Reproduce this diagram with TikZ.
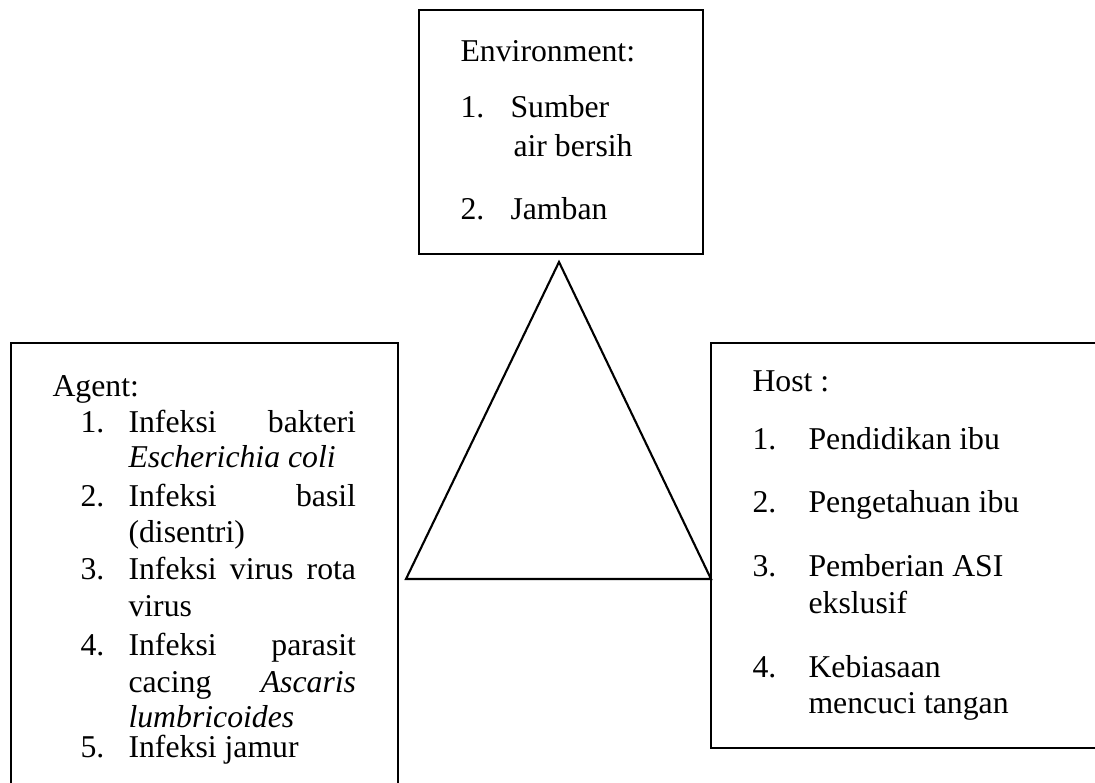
\documentclass[tikz,border=0pt]{standalone}
\usepackage{fontspec}
\setmainfont{Liberation Serif}
\newcommand{\jline}[1]{\hbox to 86pt{#1}}
\tikzset{
  box/.style={draw=black, line width=0.8pt},
  txt/.style={anchor=base west, inner sep=0pt, font=\fontsize{12}{13.8}\selectfont},
}

\begin{document}
\begin{tikzpicture}[x=0.378pt, y=-0.378pt]
  \clip (0,0) rectangle (1095,783);
  % boxes
  \draw[box] (419,10) rectangle (703,254);
  \draw[box] (11,343) rectangle (398,810);
  \draw[box] (711,343) rectangle (1110,748);

  % triangle
  \coordinate (top) at (559,262);
  \coordinate (bl) at (406,579);
  \coordinate (br) at (711,579);
  \draw[box, line join=miter] (top) -- (bl) -- (br) -- cycle;

  % environment
  \begin{scope}
    \node[txt] (env) at (460,62) {Environment:};
    \node[txt] (e1) at (460,118) {1.};
    \node[txt] (e1a) at (510,118) {Sumber};
    \node[txt] (e1b) at (513,157) {air bersih};
    \node[txt] (e2) at (460,220) {2.};
    \node[txt] (e2a) at (510,220) {Jamban};
  \end{scope}

  % agent
  \begin{scope}
    \node[txt] (agent) at (52,397) {Agent:};
    \node[txt] (a1) at (80,433) {1.};
    \node[txt] (a1a) at (128,433) {\jline{Infeksi\hfill bakteri}};
    \node[txt] (a1b) at (128,468) {\textit{Escherichia coli}};
    \node[txt] (a2) at (80,507) {2.};
    \node[txt] (a2a) at (128,507) {\jline{Infeksi\hfill basil}};
    \node[txt] (a2b) at (128,543) {(disentri)};
    \node[txt] (a3) at (80,580) {3.};
    \node[txt] (a3a) at (128,580) {\jline{Infeksi\hfill virus\hfill rota}};
    \node[txt] (a3b) at (128,617) {virus};
    \node[txt] (a4) at (80,655) {4.};
    \node[txt] (a4a) at (128,655) {\jline{Infeksi\hfill parasit}};
    \node[txt] (a4b) at (128,692) {\jline{cacing\hfill \textit{Ascaris}}};
    \node[txt] (a4c) at (128,727) {\textit{lumbricoides}};
    \node[txt] (a5) at (80,757) {5.};
    \node[txt] (a5a) at (128,757) {Infeksi jamur};
  \end{scope}

  % host
  \begin{scope}
    \node[txt] (host) at (752,392) {Host :};
    \node[txt] (h1) at (752,450) {1.};
    \node[txt] (h1a) at (808,450) {Pendidikan ibu};
    \node[txt] (h2) at (752,513) {2.};
    \node[txt] (h2a) at (808,513) {Pengetahuan ibu};
    \node[txt] (h3) at (752,577) {3.};
    \node[txt] (h3a) at (808,577) {Pemberian ASI};
    \node[txt] (h3b) at (808,613) {ekslusif};
    \node[txt] (h4) at (752,677) {4.};
    \node[txt] (h4a) at (808,677) {Kebiasaan};
    \node[txt] (h4b) at (808,713) {mencuci tangan};
  \end{scope}
\end{tikzpicture}
\end{document}
